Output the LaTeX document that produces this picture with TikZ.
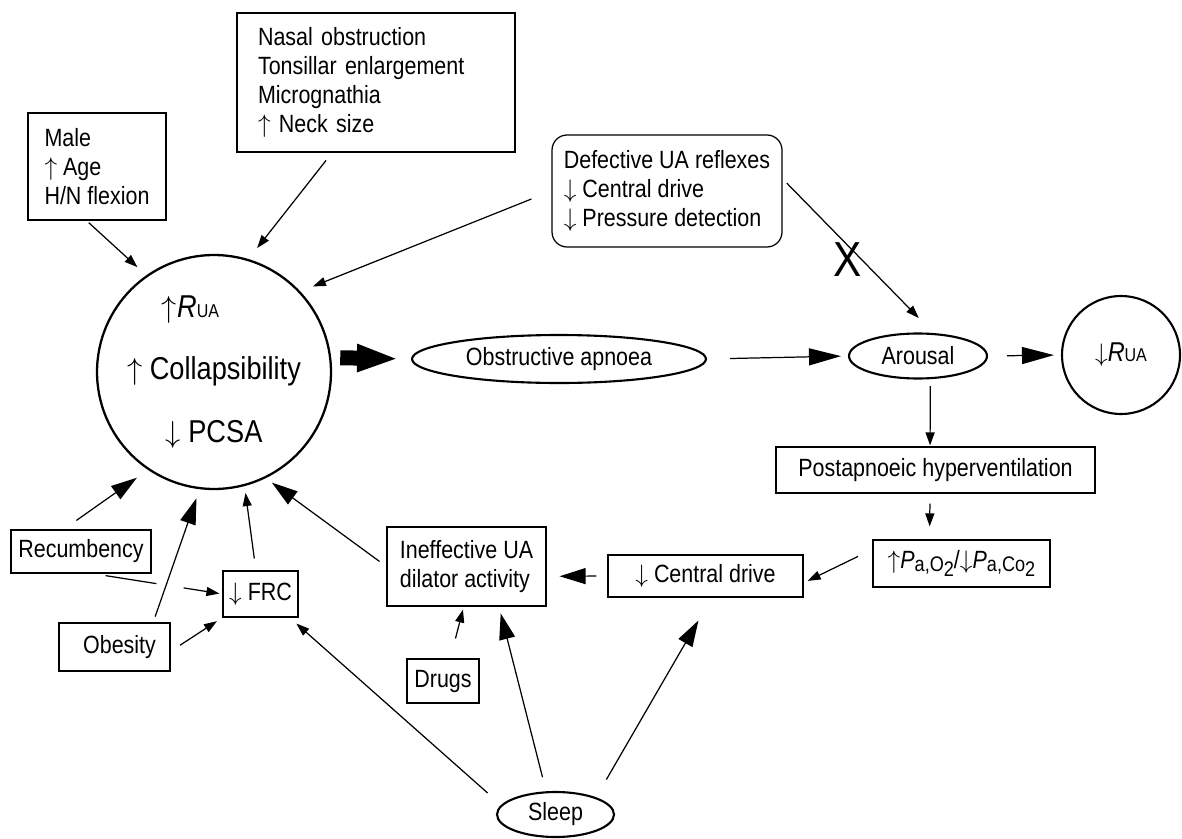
\documentclass[tikz,border=0pt]{standalone}
\usepackage{fontspec}
\setmainfont{Liberation Sans}[FakeStretch=0.86]
\usepackage{tikz}
\usetikzlibrary{arrows.meta}
\usetikzlibrary{shapes.geometric}

\newcommand{\Rua}{\textit{R}{\fontsize{10.6pt}{10.6pt}\selectfont UA}}
\newcommand{\Psub}[2]{\textit{P}\raisebox{-0.12em}{\fontsize{12pt}{12pt}\selectfont #1\raisebox{-0.28em}{#2}}}
\newcommand{\up}{$\uparrow$}
\newcommand{\dn}{$\downarrow$}

\begin{document}
\begin{tikzpicture}[x=0.02cm, y=-0.02cm, line width=0.7pt,
  font=\fontsize{14.2pt}{16.6pt}\selectfont,
  box/.style={draw, rectangle, inner sep=0pt, align=left},
  oval/.style={draw, ellipse, inner sep=0pt, line width=1.2pt},
  tipsmall/.style={-{Triangle[length=0.26cm, width=0.18cm]}},
  tipmid/.style={-{Triangle[length=0.64cm, width=0.34cm]}},
  tipbig/.style={-{Triangle[length=0.52cm, width=0.32cm]}},
  fat/.style={line width=0.3cm, -{Triangle[length=0.84cm, width=0.5cm]}}]
\useasboundingbox (0,0) rectangle (1182,838);

  % risk factors
\node[box, minimum width=2.76cm, minimum height=2.14cm] (male) at (97,166.5)
  {Male\\\up\ Age\\H/N flexion};
\node[box, text width=4.72cm, inner xsep=0.42cm, minimum height=2.78cm] (nasal) at (376,82.5)
  {Nasal obstruction\\Tonsillar enlargement\\Micrognathia\\\up\ Neck size};
\node[box, rounded corners=0.3cm, minimum width=4.6cm, minimum height=2.24cm] (defective) at (667,191)
  {Defective UA reflexes\\\dn\ Central drive\\\dn\ Pressure detection};
\node[font=\fontsize{28pt}{28pt}\selectfont] (cross) at (848,260) {X};

  % upper airway
\node[draw, circle, inner sep=0pt, line width=1.3pt, minimum size=4.68cm, align=center,
  font=\fontsize{18pt}{35.8pt}\selectfont] (circ) at (214,372)
  {\up\Rua\hspace*{0.94cm}\\\up\ Collapsibility\\\dn\ PCSA};

  % apnoea cycle
\node[oval, minimum width=5.88cm, minimum height=0.96cm] (apnoea) at (559,359) {Obstructive apnoea};
\node[oval, minimum width=2.76cm, minimum height=0.9cm] (arousal) at (918,356) {Arousal};
\node[draw, circle, inner sep=0pt, line width=1.2pt, minimum size=2.36cm,
  font=\fontsize{15.5pt}{15.5pt}\selectfont] (rdown) at (1121,355) {\dn\Rua};
\node[box, minimum width=6.38cm, minimum height=0.92cm] (posthv) at (935.5,470) {Postapnoeic hyperventilation};
\node[box, minimum width=3.54cm, minimum height=0.94cm] (pao) at (961.5,563.5)
  {\up\Psub{a,O}{2}/\dn\Psub{a,Co}{2}};
\node[box, minimum width=3.9cm, minimum height=0.84cm] (central) at (705.5,576) {\dn\ Central drive};
\node[box, minimum width=3.18cm, minimum height=1.58cm] (ineff) at (466.5,566.5)
  {Ineffective UA\\dilator activity};
\node[box, minimum width=1.44cm, minimum height=0.88cm] (drugs) at (443,681) {Drugs};
\node[oval, minimum width=2.34cm, minimum height=0.9cm] (sleep) at (555.5,814.5) {Sleep};

  % lung volume
\node[box, minimum width=2.8cm, minimum height=0.86cm] (recumb) at (81,551.5) {Recumbency};
\node[box, line width=1.4pt, minimum width=2.22cm, minimum height=0.96cm] (obesity) at (114.5,647)
  {\hspace*{0.2cm}Obesity};
\node[box, minimum width=1.5cm, minimum height=0.92cm] (frc) at (260.5,594) {\dn\ FRC};

  % arrows into the airway
\draw[tipsmall, shorten <=0.06cm, shorten >=0.24cm] (male.-101) -- (circ.125);
\draw[tipsmall, shorten <=0.2cm, shorten >=0.28cm] (nasal.-122) -- (circ.73);
\draw[tipsmall, shorten <=0.43cm, shorten >=0.27cm] (defective.west) -- (circ.43);
\draw[tipsmall, shorten <=0.12cm, shorten >=0.42cm] (defective.6) -- (arousal.56);
\draw[tipbig, shorten <=0.31cm, shorten >=0.27cm] (recumb.128) -- (circ.-124);
\draw[tipbig, shorten <=0.11cm, shorten >=0.19cm] (obesity.33) -- (circ.-97);
\draw[tipsmall, shorten <=0.24cm, shorten >=0.14cm] (frc.101) -- (circ.-75);
\draw[tipbig, shorten <=0.17cm, shorten >=0.15cm] (ineff.west) -- (circ.-64);

  % cycle
\draw[fat, shorten <=0.18cm, shorten >=0.24cm] (circ.7) -- (apnoea.west);
\draw[tipmid, shorten <=0.46cm, shorten >=0.14cm] (apnoea.east) -- (arousal.west);
\draw[tipmid, shorten <=0.38cm, shorten >=0.14cm] (arousal.east) -- (rdown.west);
\draw[tipsmall, shorten <=0.14cm, shorten >=0.02cm] (arousal.-62) -- (posthv.103);
\draw[tipsmall, shorten <=0.2cm, shorten >=0.26cm] (posthv.-103) -- (pao.143);
\draw[tipsmall, shorten <=0.32cm, shorten >=0.09cm] (pao.171) -- (central.-4);
\draw[tipbig, shorten <=0.22cm, shorten >=0.26cm] (central.west) -- (ineff.-7);
\draw[tipsmall, shorten <=0.41cm, shorten >=0.06cm] (drugs.72) -- (ineff.-94);

  % sleep
\draw[tipbig, shorten <=0.29cm, shorten >=0.14cm] (sleep.112) -- (ineff.-51);
\draw[tipbig, shorten <=0.41cm, shorten >=0.53cm] (sleep.23) -- (central.-74);
\draw[tipsmall, shorten <=0.36cm, shorten >=0.18cm] (sleep.170) -- (frc.-39);

  % FRC inputs
\draw[tipsmall, shorten <=0.21cm, shorten >=0.13cm] (obesity.-4) -- (frc.south west);
\draw[tipsmall, shorten <=0.26cm, shorten >=0.06cm, dash pattern=on 1.03cm off 0.55cm on 5cm]
  (recumb.-62) -- (frc.west);
\end{tikzpicture}
\end{document}
